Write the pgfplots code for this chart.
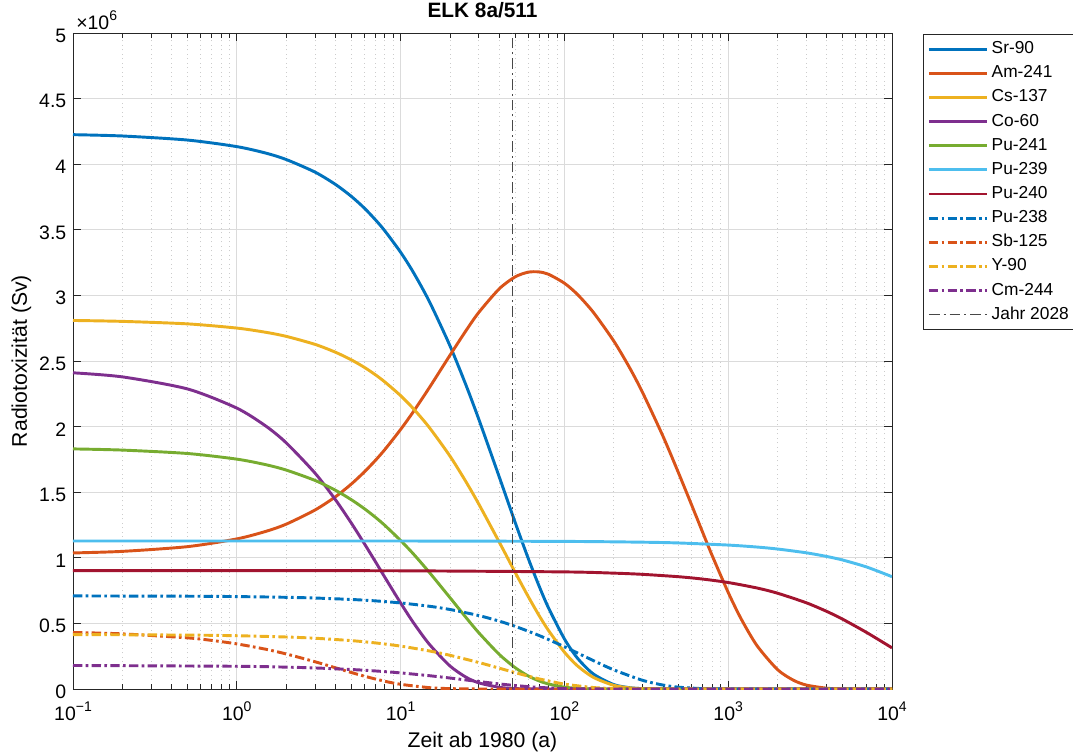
\documentclass[border=0pt]{standalone}
\usepackage{fontspec}
\setmainfont{Liberation Sans}
\usepackage{pgfplots}
\pgfplotsset{compat=1.18}
\definecolor{c1}{rgb}{0,0.447,0.741}
\definecolor{c2}{rgb}{0.85,0.325,0.098}
\definecolor{c3}{rgb}{0.929,0.694,0.125}
\definecolor{c4}{rgb}{0.494,0.184,0.556}
\definecolor{c5}{rgb}{0.466,0.674,0.188}
\definecolor{c6}{rgb}{0.301,0.745,0.933}
\definecolor{c7}{rgb}{0.635,0.078,0.184}
\newcommand{\sups}[1]{\raisebox{0.45em}{\fontsize{10.5}{10.5}\selectfont #1}}
\tikzset{dd/.style={dash pattern=on 7pt off 2.5pt on 2pt off 2.5pt},
  dl/.style={line width=2.2pt, smooth, tension=0.45}}
\begin{document}
\begin{tikzpicture}
\begin{axis}[
  at={(0,0)}, anchor=south west,
  scale only axis, width=614.25pt, height=492pt,
  xmode=log, xmin=0.1, xmax=10000, ymin=0, ymax=5,
  xtick={0.1,1,10,100,1000,10000},
  xticklabels={10\sups{−1},10\sups{0},10\sups{1},10\sups{2},10\sups{3},10\sups{4}},
  minor xtick={0.2,0.3,0.4,0.5,0.6,0.7,0.8,0.9,2,3,4,5,6,7,8,9,20,30,40,50,60,70,80,90,200,300,400,500,600,700,800,900,2000,3000,4000,5000,6000,7000,8000,9000},
  ytick={0,0.5,1,1.5,2,2.5,3,3.5,4,4.5,5},
  yticklabels={0,0.5,1,1.5,2,2.5,3,3.5,4,4.5,5},
  xmajorgrids, ymajorgrids, xminorgrids,
  major grid style={color=black!14, line width=0.6pt},
  minor grid style={color=black!20, line width=0.6pt, dash pattern=on 0.75pt off 2.6pt},
  tick align=inside, major tick length=6pt, minor tick length=3.4pt,
  every tick/.style={black!85, line width=0.6pt},
  axis line style={black!85, line width=0.7pt},
  ticklabel style={font=\fontsize{14.6}{14.6}\selectfont},
  xticklabel style={anchor=base, yshift=-23.25pt, inner sep=0pt},
  yticklabel style={anchor=east, xshift=-1.5pt, yshift=-2pt},
  title={ELK 8a/511},
  title style={at={(axis description cs:0.5,1)}, anchor=base, yshift=5.8pt, font=\bfseries\fontsize{15.6}{15.6}\selectfont},
  xlabel={Zeit ab 1980 (a)},
  xlabel style={at={(axis description cs:0.5,-0.0899)}, anchor=base, font=\fontsize{15.9}{15.9}\selectfont},
  ylabel={Radiotoxizität (Sv)},
  ylabel style={at={(axis description cs:-0.0562,0.5)}, anchor=base, font=\fontsize{15.9}{15.9}\selectfont},
  legend cell align=left,
  legend style={at={(1.0379,0.9985)}, anchor=north west, draw=black!85, line width=0.6pt,
    inner xsep=3pt, inner ysep=4pt, row sep=3.9pt, column sep=1.5pt,
    font=\fontsize{13}{13}\selectfont,
    nodes={inner sep=1pt, text height=9.5pt, text depth=2.7pt}},
  legend image code/.code={\draw[#1] (0pt,0pt) -- (43.5pt,0pt);},
  after end axis/.code={
    \node[anchor=base west, inner sep=0pt, font=\fontsize{14.6}{14.6}\selectfont] at (rel axis cs:0,1) [xshift=2.25pt, yshift=2.8pt] {×10\sups{6}};
  },
]
\addplot[c1, dl] coordinates {(0.1,4.225)(0.2,4.215)(0.5,4.184)(1,4.134)(1.5,4.085)(2,4.036)(3,3.940)(4,3.846)(5,3.755)(6,3.666)(7,3.578)(8,3.493)(10,3.329)(12,3.173)(15,2.952)(20,2.617)(25,2.320)(30,2.057)(40,1.617)(50,1.271)(60,0.999)(70,0.786)(80,0.618)(100,0.382)(120,0.236)(150,0.115)(200,0.034)(250,0.010)(300,0.003)(400,0.0003)(1000,0)(10000,0)};
\addlegendentry{Sr-90}
\addplot[c2, dl] coordinates {(0.1,1.037)(0.2,1.049)(0.5,1.085)(1,1.144)(1.5,1.201)(2,1.256)(3,1.364)(4,1.465)(5,1.562)(6,1.654)(7,1.741)(8,1.824)(10,1.978)(12,2.116)(15,2.298)(20,2.543)(25,2.729)(30,2.870)(40,3.050)(50,3.141)(60,3.177)(70,3.179)(80,3.161)(100,3.093)(120,3.008)(150,2.872)(200,2.653)(250,2.449)(300,2.260)(400,1.926)(500,1.640)(600,1.398)(700,1.191)(800,1.014)(1000,0.736)(1200,0.534)(1500,0.330)(2000,0.148)(2500,0.067)(3000,0.030)(4000,0.006)(5000,0.001)(7000,0)(10000,0)};
\addlegendentry{Am-241}
\addplot[c3, dl] coordinates {(0.1,2.809)(0.2,2.802)(0.5,2.783)(1,2.751)(1.5,2.719)(2,2.688)(3,2.627)(4,2.567)(5,2.509)(6,2.452)(7,2.396)(8,2.341)(10,2.236)(12,2.135)(15,1.992)(20,1.776)(25,1.582)(30,1.410)(40,1.120)(50,0.890)(60,0.707)(70,0.561)(80,0.446)(100,0.281)(120,0.177)(150,0.089)(200,0.028)(250,0.009)(300,0.003)(400,0.0003)(1000,0)(10000,0)};
\addlegendentry{Cs-137}
\addplot[c4, dl] coordinates {(0.1,2.410)(0.2,2.379)(0.5,2.287)(1,2.141)(1.5,2.005)(2,1.877)(3,1.646)(4,1.443)(5,1.265)(6,1.109)(7,0.973)(8,0.853)(10,0.656)(12,0.504)(15,0.340)(20,0.176)(25,0.091)(30,0.047)(40,0.013)(50,0.003)(70,0.0002)(100,0)(10000,0)};
\addlegendentry{Co-60}
\addplot[c5, dl] coordinates {(0.1,1.830)(0.2,1.821)(0.5,1.795)(1,1.752)(1.5,1.710)(2,1.669)(3,1.590)(4,1.515)(5,1.443)(6,1.375)(7,1.310)(8,1.248)(10,1.132)(12,1.028)(15,0.888)(20,0.697)(25,0.547)(30,0.429)(40,0.264)(50,0.163)(60,0.100)(70,0.062)(80,0.038)(100,0.014)(120,0.005)(150,0.001)(200,0.0001)(500,0)(10000,0)};
\addlegendentry{Pu-241}
\addplot[c6, dl] coordinates {(0.1,1.128)(1,1.128)(10,1.128)(100,1.125)(300,1.119)(500,1.113)(1000,1.097)(1500,1.082)(2000,1.067)(3000,1.038)(4000,1.010)(5000,0.983)(7000,0.930)(10000,0.856)};
\addlegendentry{Pu-239}
\addplot[c7, dl] coordinates {(0.1,0.902)(1,0.902)(10,0.901)(100,0.8925)(200,0.8831)(300,0.8739)(500,0.8556)(700,0.8377)(1000,0.8116)(1500,0.7698)(2000,0.7302)(3000,0.6570)(4000,0.5911)(5000,0.5319)(7000,0.4307)(10000,0.3136)};
\addlegendentry{Pu-240}
\addplot[c1, dl, dd] coordinates {(0.1,0.7094)(0.5,0.7072)(1,0.7044)(2,0.6989)(3,0.6934)(5,0.6825)(7,0.6718)(10,0.6560)(15,0.6306)(20,0.6061)(30,0.5599)(40,0.5173)(50,0.4779)(70,0.4080)(100,0.3222)(150,0.2170)(200,0.1462)(300,0.0663)(400,0.0301)(500,0.0137)(700,0.0028)(1000,0.0003)(2000,0)(10000,0)};
\addlegendentry{Pu-238}
\addplot[c2, dl, dd] coordinates {(0.1,0.431)(0.2,0.4203)(0.5,0.3898)(0.7,0.3707)(1,0.3438)(1.5,0.3032)(2,0.2674)(3,0.2079)(4,0.1617)(5,0.1258)(6,0.0978)(8,0.0592)(10,0.0358)(15,0.0102)(20,0.0029)(30,0.0002)(50,0)(10000,0)};
\addlegendentry{Sb-125}
\addplot[c3, dl, dd] coordinates {(0.1,0.415)(0.5,0.4110)(1,0.4061)(2,0.3964)(3,0.3870)(5,0.3688)(7,0.3515)(10,0.3270)(15,0.2899)(20,0.2570)(30,0.2021)(40,0.1588)(50,0.1249)(70,0.0772)(100,0.0375)(150,0.0113)(200,0.0034)(300,0.0003)(500,0)(10000,0)};
\addlegendentry{Y-90}
\addplot[c4, dl, dd] coordinates {(0.1,0.1793)(1,0.1732)(2,0.1667)(3,0.1605)(5,0.1486)(7,0.1377)(10,0.1227)(15,0.1013)(20,0.0837)(30,0.0570)(40,0.0389)(50,0.0265)(70,0.0123)(100,0.0039)(150,0.0006)(200,0.0001)(300,0)(10000,0)};
\addlegendentry{Cm-244}
\addplot[black!72, line width=0.75pt, dash pattern=on 8pt off 3pt on 1.5pt off 3pt] coordinates {(48,0)(48,5)};
\addlegendentry{Jahr 2028}
\end{axis}
\pgfresetboundingbox
\useasboundingbox (-54.75pt,-48pt) rectangle (750pt,516.75pt);
\end{tikzpicture}
\end{document}
